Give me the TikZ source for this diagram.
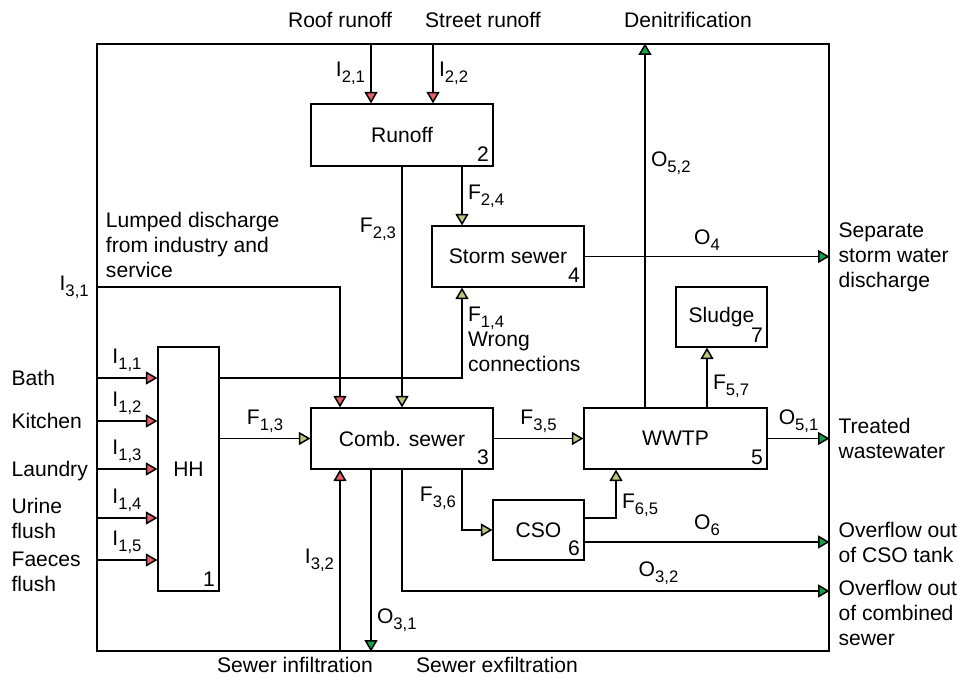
\documentclass[tikz,border=0pt]{standalone}
\usepackage{fontspec}
\setmainfont{Liberation Sans}
\usetikzlibrary{arrows.meta,calc}
\definecolor{cin}{RGB}{232,96,106}
\definecolor{cflow}{RGB}{190,196,122}
\definecolor{cout}{RGB}{22,160,72}
\newcommand\subs[1]{\raisebox{-3.4pt}{\fontsize{9.5}{10}\selectfont #1}}
\tikzset{
  sysbox/.style={rectangle,draw,line width=0.7pt,inner sep=0pt},
  box/.style={rectangle,draw,line width=0.7pt,inner sep=0pt},
  num/.style={anchor=south east,inner sep=2.5pt},
  lab/.style={inner sep=3pt},
  ext/.style={align=left,inner sep=3pt},
  % inputs red, internal flows olive, outputs green
  iarr/.style={-{Triangle[length=2.3mm,width=2.6mm,fill=cin]},line width=0.85pt},
  farr/.style={-{Triangle[length=2.3mm,width=2.6mm,fill=cflow]},line width=0.85pt},
  oarr/.style={-{Triangle[length=2.3mm,width=2.6mm,fill=cout]},line width=0.85pt}
}
\begin{document}
\begin{tikzpicture}[x=0.02cm,y=-0.02cm,font=\fontsize{12}{14.2}\selectfont]
  \useasboundingbox (0,0) rectangle (958,679);
  % system boundary and processes
  \node[sysbox,minimum width=14.64cm,minimum height=12.14cm] (sys) at (463,347.5) {};
  \node[box,minimum width=1.22cm,minimum height=4.88cm] (hh) at (188.5,469) {HH};
  \node[box,minimum width=3.64cm,minimum height=1.24cm] (runoff) at (402,135) {Runoff};
  \node[box,minimum width=3.04cm,minimum height=1.22cm] (storm) at (508,256.5) {Storm sewer};
  \node[box,minimum width=3.64cm,minimum height=1.22cm] (comb) at (402,438.5) {Comb. sewer};
  \node[box,minimum width=3.66cm,minimum height=1.22cm] (wwtp) at (675.5,438.5) {WWTP};
  \node[box,minimum width=1.82cm,minimum height=1.2cm] (cso) at (538.5,530) {CSO};
  \node[box,minimum width=1.82cm,minimum height=1.2cm] (sludge) at (721.5,317) {Sludge};
  \foreach \b/\n in {hh/1,runoff/2,comb/3,storm/4,wwtp/5,cso/6,sludge/7}
    \node[num] at (\b.south east) {\n};

  % columns of the vertical connectors
  \coordinate (c1) at (340,0);
  \coordinate (c2) at (371,0);
  \coordinate (c4) at (433,0);
  \coordinate (c5) at (462,0);
  \coordinate (c6) at (616,0);
  \coordinate (c7) at (645,0);
  \coordinate (c8) at (707,0);

  % texts outside the boundary
  \node[ext] (roof) at (340,20) {Roof runoff};
  \node[ext] (street) at (483,20) {Street runoff};
  \node[ext] (denit) at (688,20) {Denitrification};
  \node[ext,anchor=west] (bath) at (6,378) {Bath};
  \node[ext,anchor=west] (kitchen) at (6,421) {Kitchen};
  \node[ext,anchor=west] (laundry) at (6,471) {Laundry};
  \node[ext,anchor=west] (urine) at (6,518) {Urine\\flush};
  \node[ext,anchor=west] (faeces) at (6,572) {Faeces\\flush};
  \node[ext] (infil) at (295,665) {Sewer infiltration};
  \node[ext] (exfil) at (497,665) {Sewer exfiltration};
  \node[ext,anchor=west] (sep) at (833,257) {Separate\\storm water\\discharge};
  \node[ext,anchor=west] (treat) at (833,438) {Treated\\wastewater};
  \node[ext,anchor=west] (ovcso) at (833,542) {Overflow out\\of CSO tank};
  \node[ext,anchor=north west] (ovcomb) at (833,575) {Overflow out\\of combined\\sewer};

  % inputs
  \draw[iarr] (c2 |- sys.north) -- node[lab,left] {I\subs{2,1}} (c2 |- runoff.north);
  \draw[iarr] (c4 |- sys.north) -- node[lab,right] {I\subs{2,2}} (c4 |- runoff.north);
  \foreach \y/\i in {378/1,421/2,469/3,518/4,560/5}
    \draw[iarr] (sys.west |- 0,\y) -- node[lab,above] {I\subs{1,\i}} (hh.west |- 0,\y);
  \draw[iarr] (sys.west |- 0,287) -| node[lab,pos=0,left,inner sep=4pt] {I\subs{3,1}}
    node[ext,pos=0,anchor=south west,inner sep=5pt] {Lumped discharge\\from industry and\\service}
    (c1 |- comb.north);
  \draw[iarr] (c1 |- sys.south) -- node[lab,left] {I\subs{3,2}} (c1 |- comb.south);

  % internal flows
  \draw[farr] (runoff) -- node[lab,left,pos=.26] {F\subs{2,3}} (comb);
  \draw[farr] (c5 |- runoff.south) -- node[lab,right] {F\subs{2,4}} (c5 |- storm.north);
  \draw[farr] (hh.east |- 0,378) -| node[lab,pos=.5,anchor=south west,align=left]
    {F\subs{1,4}\\Wrong\\connections} (c5 |- storm.south);
  \draw[farr] (hh.east |- comb.west) -- node[lab,above] {F\subs{1,3}} (comb.west);
  \draw[farr] (comb.east) -- node[lab,above] {F\subs{3,5}} (wwtp.west);
  \draw[farr] (c5 |- comb.south) |- node[lab,left,pos=.24] {F\subs{3,6}} (cso.west);
  \draw[farr] ($(cso.east)+(0,-12)$) -| node[lab,right,pos=.63] {F\subs{6,5}} (c6 |- wwtp.south);
  \draw[farr] (c8 |- wwtp.north) -- node[lab,right,pos=.35] {F\subs{5,7}} (c8 |- sludge.south);

  % outputs
  \draw[oarr] (c7 |- wwtp.north) -- node[lab,right,pos=.67] {O\subs{5,2}} (c7 |- sys.north);
  \draw[oarr] (storm.east) -- node[lab,above] {O\subs{4}} (storm.east -| sys.east);
  \draw[oarr] (wwtp.east) -- node[lab,above] {O\subs{5,1}} (wwtp.east -| sys.east);
  \draw[oarr] ($(cso.east)+(0,12)$) -- node[lab,above] {O\subs{6}} (sys.east |- 0,542);
  \draw[oarr] (comb.south) |- node[lab,above,pos=.8] {O\subs{3,2}} (sys.east |- 0,591);
  \draw[oarr] (c2 |- comb.south) -- node[lab,right,pos=.83] {O\subs{3,1}} (c2 |- sys.south);
\end{tikzpicture}
\end{document}
